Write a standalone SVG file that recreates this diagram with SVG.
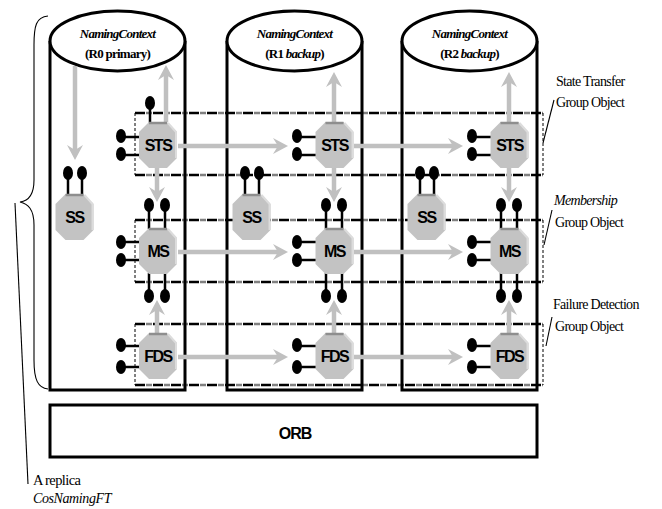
<svg xmlns="http://www.w3.org/2000/svg" width="662" height="509" viewBox="0 0 662 509">
<style>
.cyl{fill:none;stroke:#000;stroke-width:3}
.cylTop{fill:#fff;stroke:#000;stroke-width:3}
.nc{font-family:"Liberation Serif",serif;font-size:13px;font-weight:bold;letter-spacing:-0.75px;text-anchor:middle}
.it{font-style:italic}
.lbl{font-family:"Liberation Serif",serif;font-size:14px;letter-spacing:-0.7px}
.oct{font-family:"Liberation Sans",Arial,sans-serif;font-size:16px;font-weight:bold;text-anchor:middle;letter-spacing:-1.5px}
.gh{fill:none;stroke:#000;stroke-width:2.5;stroke-dasharray:10 1.5 1 1 1 1 1 1.5}
.gv{fill:none;stroke:#000;stroke-width:1;stroke-dasharray:3 2}
.arr{fill:none;stroke:#c0c0c0;stroke-width:4.5;marker-end:url(#ah)}
.stem{stroke:#000;stroke-width:2.5}
.thin{fill:none;stroke:#000;stroke-width:1.1}
</style>
<defs>
<marker id="ah" markerUnits="userSpaceOnUse" markerWidth="16" markerHeight="17" refX="5" refY="8" orient="auto">
<path d="M0,0 L15,8 L0,16 L5,8 z" fill="#c0c0c0"/>
</marker>
<g id="octo">
<polygon points="-9,-23 9,-23 19,-13 19,13 9,23 -9,23 -19,13 -19,-13" fill="#c3c3c3"/>
<line x1="-9" y1="-22" x2="9" y2="-22" stroke="#8e8e8e" stroke-width="2.5"/>
<polyline points="10,-22 18,-13 18,13" fill="none" stroke="#dcdcdc" stroke-width="2"/>
</g>
<ellipse id="lp" cx="0" cy="0" rx="5" ry="7" fill="#000"/>
</defs>

<!-- brace and replica label -->
<g id="replica">
<path class="thin" d="M48,16 C36,17 34,26 34,45 L34,180 C34,196 28,201 20,202 C28,204 34,209 34,225 L34,360 C34,380 38,388 48,389"/>
<line class="thin" x1="15" y1="203" x2="28" y2="484"/>
<text class="lbl" x="33" y="485" style="font-size:14.5px;letter-spacing:-0.6px">A replica</text>
<text class="lbl it" x="33" y="503" style="letter-spacing:-0.4px">CosNamingFT</text>
</g>

<!-- cylinders -->
<g id="cyl0">
<path class="cyl" d="M50,41 L50,390 L185,390 L185,41"/>
<ellipse class="cylTop" cx="117.5" cy="41" rx="67.5" ry="30"/>
<text class="nc it" x="117.5" y="38">NamingContext</text>
<text class="nc" x="117.5" y="58">(R0 primary)</text>
</g>
<g id="cyl1">
<path class="cyl" d="M227,41 L227,390 L362,390 L362,41"/>
<ellipse class="cylTop" cx="294.5" cy="41" rx="67.5" ry="30"/>
<text class="nc it" x="294.5" y="38">NamingContext</text>
<text class="nc" x="294.5" y="58">(R1 <tspan class="it">backup</tspan>)</text>
</g>
<g id="cyl2">
<path class="cyl" d="M402,41 L402,390 L537,390 L537,41"/>
<ellipse class="cylTop" cx="469.5" cy="41" rx="67.5" ry="30"/>
<text class="nc it" x="469.5" y="38">NamingContext</text>
<text class="nc" x="469.5" y="58">(R2 <tspan class="it">backup</tspan>)</text>
</g>

<!-- ORB -->
<g id="orb">
<rect x="50" y="405" width="487" height="52" fill="none" stroke="#000" stroke-width="3"/>
<text class="oct" x="295" y="439" style="letter-spacing:-1px">ORB</text>
</g>

<!-- group objects -->
<g id="stsGroup">
<line class="gh" x1="135" y1="113" x2="543" y2="113"/>
<line class="gh" x1="135" y1="175" x2="543" y2="175"/>
<line class="gv" x1="135" y1="113" x2="135" y2="175"/>
<line class="gv" x1="543" y1="113" x2="543" y2="175"/>
<line class="thin" x1="543" y1="143" x2="554" y2="100"/>
<text class="lbl" x="556" y="86">State Transfer</text>
<text class="lbl" x="556" y="107">Group Object</text>
</g>
<g id="msGroup">
<line class="gh" x1="135" y1="220" x2="543" y2="220"/>
<line class="gh" x1="135" y1="282" x2="543" y2="282"/>
<line class="gv" x1="135" y1="220" x2="135" y2="282"/>
<line class="gv" x1="543" y1="220" x2="543" y2="282"/>
<line class="thin" x1="544" y1="245" x2="552" y2="210"/>
<text class="lbl it" x="554" y="205">Membership</text>
<text class="lbl" x="555" y="227">Group Object</text>
</g>
<g id="fdsGroup">
<line class="gh" x1="135" y1="324" x2="543" y2="324"/>
<line class="gh" x1="135" y1="385" x2="543" y2="385"/>
<line class="gv" x1="135" y1="324" x2="135" y2="385"/>
<line class="gv" x1="543" y1="324" x2="543" y2="385"/>
<line class="thin" x1="546" y1="346" x2="552" y2="317"/>
<text class="lbl" x="553" y="309">Failure Detection</text>
<text class="lbl" x="555" y="331">Group Object</text>
</g>

<!-- connectors -->
<g id="connectors">
<line class="arr" x1="75" y1="66" x2="75" y2="150"/>
<line class="arr" x1="166" y1="122" x2="166" y2="75"/>
<line class="arr" x1="334" y1="122" x2="334" y2="82"/>
<line class="arr" x1="509" y1="122" x2="509" y2="82"/>
<line class="arr" x1="178" y1="146" x2="278" y2="146"/>
<line class="arr" x1="354" y1="146" x2="453" y2="146"/>
<line class="arr" x1="178" y1="252" x2="278" y2="252"/>
<line class="arr" x1="354" y1="252" x2="453" y2="252"/>
<line class="arr" x1="178" y1="357" x2="278" y2="357"/>
<line class="arr" x1="354" y1="357" x2="453" y2="357"/>
<line class="arr" x1="157" y1="168" x2="157" y2="192"/>
<line class="arr" x1="334" y1="168" x2="334" y2="192"/>
<line class="arr" x1="509" y1="168" x2="509" y2="192"/>
<line class="arr" x1="157" y1="333" x2="157" y2="310"/>
<line class="arr" x1="334" y1="333" x2="334" y2="310"/>
<line class="arr" x1="509" y1="333" x2="509" y2="310"/>
</g>

<!-- SS nodes -->
<g id="ss0">
<line class="stem" x1="68" y1="175" x2="68" y2="194"/><line class="stem" x1="82" y1="175" x2="82" y2="194"/>
<use href="#lp" x="68" y="173"/><use href="#lp" x="82" y="173"/>
<use href="#octo" x="74.5" y="217"/>
<text class="oct" x="74.5" y="223">SS</text>
</g>
<g id="ss1">
<line class="stem" x1="245" y1="175" x2="245" y2="194"/><line class="stem" x1="259" y1="175" x2="259" y2="194"/>
<use href="#lp" x="245" y="173"/><use href="#lp" x="259" y="173"/>
<use href="#octo" x="251.5" y="217"/>
<text class="oct" x="251.5" y="223">SS</text>
</g>
<g id="ss2">
<line class="stem" x1="420" y1="175" x2="420" y2="194"/><line class="stem" x1="434" y1="175" x2="434" y2="194"/>
<use href="#lp" x="420" y="173"/><use href="#lp" x="434" y="173"/>
<use href="#octo" x="426.5" y="217"/>
<text class="oct" x="426.5" y="223">SS</text>
</g>

<!-- STS nodes -->
<g id="sts0">
<line class="stem" x1="150" y1="104" x2="150" y2="123"/>
<use href="#lp" x="150" y="103"/>
<line class="stem" x1="121" y1="137" x2="140" y2="137"/><line class="stem" x1="121" y1="155" x2="140" y2="155"/>
<use href="#lp" x="121" y="136"/><use href="#lp" x="121" y="154"/>
<use href="#octo" x="158" y="145"/>
<text class="oct" x="158" y="151">STS</text>
</g>
<g id="sts1">
<line class="stem" x1="297" y1="137" x2="316" y2="137"/><line class="stem" x1="297" y1="155" x2="316" y2="155"/>
<use href="#lp" x="297" y="136"/><use href="#lp" x="297" y="154"/>
<use href="#octo" x="334.5" y="145"/>
<text class="oct" x="334.5" y="151">STS</text>
</g>
<g id="sts2">
<line class="stem" x1="472" y1="137" x2="491" y2="137"/><line class="stem" x1="472" y1="155" x2="491" y2="155"/>
<use href="#lp" x="472" y="136"/><use href="#lp" x="472" y="154"/>
<use href="#octo" x="509.5" y="145"/>
<text class="oct" x="509.5" y="151">STS</text>
</g>

<!-- MS nodes -->
<g id="ms0">
<line class="stem" x1="149" y1="207" x2="149" y2="229"/><line class="stem" x1="165" y1="207" x2="165" y2="229"/>
<use href="#lp" x="149" y="205"/><use href="#lp" x="165" y="205"/>
<line class="stem" x1="149" y1="273" x2="149" y2="294"/><line class="stem" x1="165" y1="273" x2="165" y2="294"/>
<use href="#lp" x="149" y="296"/><use href="#lp" x="165" y="296"/>
<line class="stem" x1="121" y1="242" x2="140" y2="242"/><line class="stem" x1="121" y1="260" x2="140" y2="260"/>
<use href="#lp" x="121" y="242"/><use href="#lp" x="121" y="260"/>
<use href="#octo" x="158" y="251"/>
<text class="oct" x="158" y="257">MS</text>
</g>
<g id="ms1">
<line class="stem" x1="326" y1="207" x2="326" y2="229"/><line class="stem" x1="342" y1="207" x2="342" y2="229"/>
<use href="#lp" x="326" y="205"/><use href="#lp" x="342" y="205"/>
<line class="stem" x1="326" y1="273" x2="326" y2="294"/><line class="stem" x1="342" y1="273" x2="342" y2="294"/>
<use href="#lp" x="326" y="296"/><use href="#lp" x="342" y="296"/>
<line class="stem" x1="297" y1="242" x2="316" y2="242"/><line class="stem" x1="297" y1="260" x2="316" y2="260"/>
<use href="#lp" x="297" y="242"/><use href="#lp" x="297" y="260"/>
<use href="#octo" x="334.5" y="251"/>
<text class="oct" x="334.5" y="257">MS</text>
</g>
<g id="ms2">
<line class="stem" x1="501" y1="207" x2="501" y2="229"/><line class="stem" x1="517" y1="207" x2="517" y2="229"/>
<use href="#lp" x="501" y="205"/><use href="#lp" x="517" y="205"/>
<line class="stem" x1="501" y1="273" x2="501" y2="294"/><line class="stem" x1="517" y1="273" x2="517" y2="294"/>
<use href="#lp" x="501" y="296"/><use href="#lp" x="517" y="296"/>
<line class="stem" x1="472" y1="242" x2="491" y2="242"/><line class="stem" x1="472" y1="260" x2="491" y2="260"/>
<use href="#lp" x="472" y="242"/><use href="#lp" x="472" y="260"/>
<use href="#octo" x="509.5" y="251"/>
<text class="oct" x="509.5" y="257">MS</text>
</g>

<!-- FDS nodes -->
<g id="fds0">
<line class="stem" x1="121" y1="346" x2="140" y2="346"/><line class="stem" x1="121" y1="367" x2="140" y2="367"/>
<use href="#lp" x="121" y="345"/><use href="#lp" x="121" y="367"/>
<use href="#octo" x="158" y="356"/>
<text class="oct" x="158" y="362">FDS</text>
</g>
<g id="fds1">
<line class="stem" x1="297" y1="346" x2="316" y2="346"/><line class="stem" x1="297" y1="367" x2="316" y2="367"/>
<use href="#lp" x="297" y="345"/><use href="#lp" x="297" y="367"/>
<use href="#octo" x="334.5" y="356"/>
<text class="oct" x="334.5" y="362">FDS</text>
</g>
<g id="fds2">
<line class="stem" x1="472" y1="346" x2="491" y2="346"/><line class="stem" x1="472" y1="367" x2="491" y2="367"/>
<use href="#lp" x="472" y="345"/><use href="#lp" x="472" y="367"/>
<use href="#octo" x="509.5" y="356"/>
<text class="oct" x="509.5" y="362">FDS</text>
</g>
</svg>
